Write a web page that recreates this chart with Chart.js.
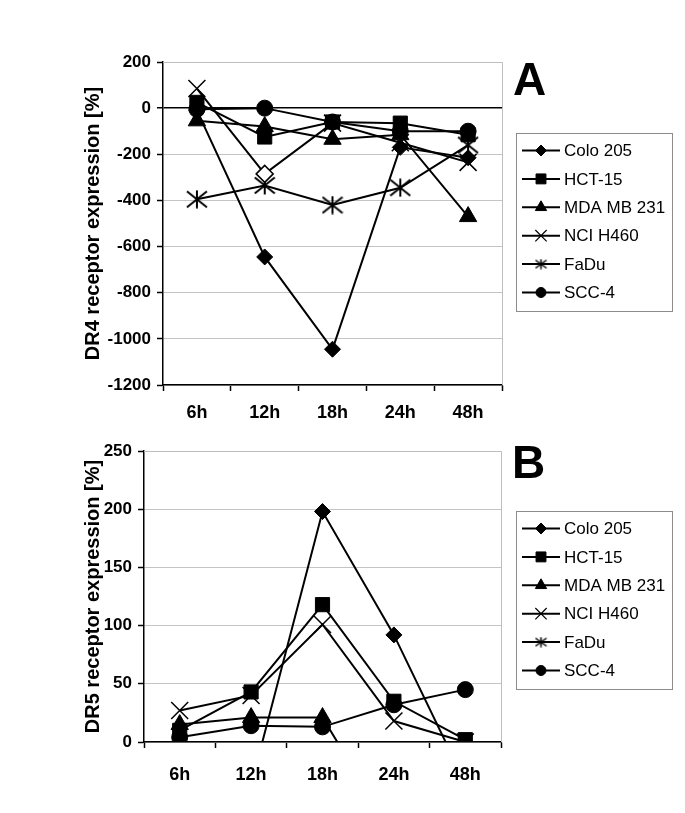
<!DOCTYPE html>
<html>
<head>
<meta charset="utf-8">
<script src="https://cdn.jsdelivr.net/npm/chart.js@4.4.1/dist/chart.umd.min.js"></script>
<style>
  body { margin: 0; background: #fff; }
  #wrap { position: relative; width: 685px; height: 813px; }
  canvas { position: absolute; left: 0; }
  #dr4 { top: 0; }
  #dr5 { top: 430px; }
</style>
</head>
<body>
<div id="wrap">
  <canvas id="dr4" width="685" height="430"></canvas>
  <canvas id="dr5" width="685" height="383"></canvas>
</div>
<script>
const timePoints = ['6h', '12h', '18h', '24h', '48h'];
const cellLines = ['Colo 205', 'HCT-15', 'MDA MB 231', 'NCI H460', 'FaDu', 'SCC-4'];

// DR4 receptor expression [%] (panel A)
const dr4Colo205 = [-10, -645, -1045, -170, -215];
const dr4Hct15 = [25, -125, -60, -65, -115];
const dr4Mda231 = [-55, -80, -135, -115, -470];
const dr4NciH460 = [85, -285, -65, -150, -235];
const dr4FaDu = [-395, -335, -420, -345, -160];
const dr4Scc4 = [-5, 0, -60, -100, -100];

// DR5 receptor expression [%] (panel B) - negatives fall below the axis
const dr5Colo205 = [-40, -37, 198, 92, -35];
const dr5Hct15 = [10, 43, 118, 35, 2];
const dr5Mda231 = [15, 21, 21, -80, -60];
const dr5NciH460 = [27, 40, 101, 18, 0];
const dr5FaDu = [-20, -25, -30, -25, -20];
const dr5Scc4 = [4, 14, 13, 32, 45];

const dr4Ticks = { min: -1200, max: 200, step: 200 };
const dr5Ticks = { min: 0, max: 250, step: 50 };

const FONT = '"Liberation Sans", Arial, sans-serif';
Chart.defaults.color = '#000';
Chart.defaults.font.family = FONT;

function asterisk(w, h, lw) {
    const c = document.createElement('canvas');
    c.width = w; c.height = h;
    const g = c.getContext('2d');
    g.strokeStyle = '#000';
    g.lineWidth = lw;
    g.beginPath();
    g.moveTo(w / 2, 0.5); g.lineTo(w / 2, h - 0.5);
    g.moveTo(1, 1.5); g.lineTo(w - 1, h - 1.5);
    g.moveTo(w - 1, 1.5); g.lineTo(1, h - 1.5);
    g.stroke();
    return c;
}

// marker look per cell line: in the plot and in the legend
const plotMarks = [
    { pointStyle: 'rectRot', radius: 8, borderWidth: 1 },
    { pointStyle: 'rect', radius: 10, borderWidth: 1 },
    { pointStyle: 'triangle', radius: 10, borderWidth: 1 },
    { pointStyle: 'crossRot', radius: 12, borderWidth: 1.5 },
    { pointStyle: asterisk(22, 19, 2), radius: 10, borderWidth: 1 },
    { pointStyle: 'circle', radius: 8, borderWidth: 1 }
];
const legendMarks = [
    { pointStyle: 'rectRot', radius: 5.5, borderWidth: 1 },
    { pointStyle: 'rect', radius: 7, borderWidth: 1 },
    { pointStyle: 'triangle', radius: 6.5, borderWidth: 1 },
    { pointStyle: 'crossRot', radius: 8, borderWidth: 1.2 },
    { pointStyle: asterisk(13, 11, 1.5), radius: 6, borderWidth: 1 },
    { pointStyle: 'circle', radius: 5, borderWidth: 1 }
];

function makeDatasets(series, clip) {
    return series.map((values, i) => ({
        label: cellLines[i],
        data: values,
        borderColor: '#000',
        borderWidth: 2,
        backgroundColor: '#000',
        pointBackgroundColor: '#000',
        pointBorderColor: '#000',
        pointStyle: plotMarks[i].pointStyle,
        pointRadius: plotMarks[i].radius,
        pointBorderWidth: plotMarks[i].borderWidth,
        tension: 0,
        clip: clip
    }));
}

// boxed legend with line-through markers, plus the panel letter
const boxLegend = {
    id: 'boxLegend',
    afterDraw(chart, args, opts) {
        const { ctx, chartArea } = chart;
        const rowH = 28.4;
        const n = chart.data.datasets.length;
        const boxX = chartArea.right + opts.gap;
        const boxW = 156;
        const boxH = rowH * (n - 1) + 36;
        const boxY = (chartArea.top + chartArea.bottom) / 2 - boxH / 2 + opts.shift;
        ctx.save();
        ctx.strokeStyle = '#8c8c8c';
        ctx.lineWidth = 1;
        ctx.strokeRect(Math.round(boxX) + 0.5, Math.round(boxY) + 0.5, boxW, boxH);
        ctx.font = '17px ' + FONT;
        ctx.textBaseline = 'middle';
        chart.data.datasets.forEach((ds, i) => {
            const y = boxY + 18 + i * rowH;
            ctx.strokeStyle = '#000';
            ctx.lineWidth = 2;
            ctx.beginPath();
            ctx.moveTo(boxX + 6, y);
            ctx.lineTo(boxX + 44, y);
            ctx.stroke();
            ctx.fillStyle = '#000';
            ctx.lineWidth = legendMarks[i].borderWidth;
            Chart.helpers.drawPoint(ctx, legendMarks[i], boxX + 25, y);
            ctx.fillStyle = '#000';
            ctx.fillText(ds.label, boxX + 48, y + 1);
        });
        // panel letter
        ctx.font = 'bold 46px ' + FONT;
        ctx.textBaseline = 'alphabetic';
        ctx.fillText(opts.letter, chartArea.right + 11, chartArea.top + opts.letterY);
        // grey frame on top and right of the plot area
        ctx.strokeStyle = '#bdbdbd';
        ctx.lineWidth = 1;
        ctx.beginPath();
        ctx.moveTo(chartArea.left, chartArea.top + 0.5);
        ctx.lineTo(chartArea.right + 0.5, chartArea.top + 0.5);
        ctx.lineTo(chartArea.right + 0.5, chartArea.bottom);
        ctx.stroke();
        ctx.restore();
    }
};

function makeChart(id, opt) {
    return new Chart(document.getElementById(id), {
        type: 'line',
        data: { labels: timePoints, datasets: opt.datasets },
        plugins: [boxLegend],
        options: {
            responsive: false,
            animation: false,
            events: [],
            layout: { padding: { top: opt.padTop, right: opt.padRight, left: 0, bottom: 0 } },
            plugins: {
                legend: { display: false },
                tooltip: { enabled: false },
                boxLegend: { letter: opt.letter, letterY: opt.letterY, gap: opt.gap, shift: opt.shift }
            },
            scales: {
                x: {
                    offset: true,
                    grid: { offset: true, drawOnChartArea: false, tickLength: 6, tickColor: '#000', tickWidth: 1.5 },
                    border: { color: '#000', width: 1.5 },
                    ticks: { font: { size: 18, weight: 'bold' }, padding: opt.xPad, maxRotation: 0 },
                    afterFit: (s) => { s.height = opt.xHeight; }
                },
                y: {
                    min: opt.ticks.min,
                    max: opt.ticks.max,
                    grid: {
                        color: (c) => (opt.blackZero && c.tick && c.tick.value === 0) ? '#000' : '#c4c4c4',
                        lineWidth: (c) => (opt.blackZero && c.tick && c.tick.value === 0) ? 1.5 : 1,
                        tickColor: '#000',
                        tickLength: 6,
                        tickWidth: 1.5
                    },
                    border: { color: '#000', width: 1.5 },
                    ticks: {
                        stepSize: opt.ticks.step,
                        font: { size: 17, weight: 'bold' },
                        padding: 6,
                        callback: (v) => String(v)
                    },
                    title: {
                        display: true,
                        text: opt.title,
                        font: { size: 20, weight: 'bold' },
                        padding: { top: 81, bottom: 0 }
                    },
                    afterFit: (s) => { s.width = opt.yWidth; }
                }
            }
        }
    });
}

const dr4Chart = makeChart('dr4', {
    datasets: makeDatasets([dr4Colo205, dr4Hct15, dr4Mda231, dr4NciH460, dr4FaDu, dr4Scc4], false),
    ticks: dr4Ticks,
    title: 'DR4 receptor expression [%]',
    letter: 'A', letterY: 33, gap: 14, shift: -2,
    padTop: 62, padRight: 183, yWidth: 163, xHeight: 45, xPad: 11,
    blackZero: true
});
// the hollow diamond at NCI H460, 12h
const nci = dr4Chart.data.datasets[3];
nci.pointStyle = timePoints.map((t, i) => i === 1 ? 'rectRot' : 'crossRot');
nci.pointBackgroundColor = timePoints.map((t, i) => i === 1 ? '#fff' : '#000');
nci.pointRadius = timePoints.map((t, i) => i === 1 ? 8.5 : 12);
dr4Chart.update();

makeChart('dr5', {
    datasets: makeDatasets([dr5Colo205, dr5Hct15, dr5Mda231, dr5NciH460, dr5FaDu, dr5Scc4],
        { left: false, right: false, top: false, bottom: 0 }),
    ticks: dr5Ticks,
    title: 'DR5 receptor expression [%]',
    letter: 'B', letterY: 27, gap: 15, shift: 3,
    padTop: 21, padRight: 184, yWidth: 144, xHeight: 71, xPad: 16,
    blackZero: false
});
</script>
</body>
</html>
